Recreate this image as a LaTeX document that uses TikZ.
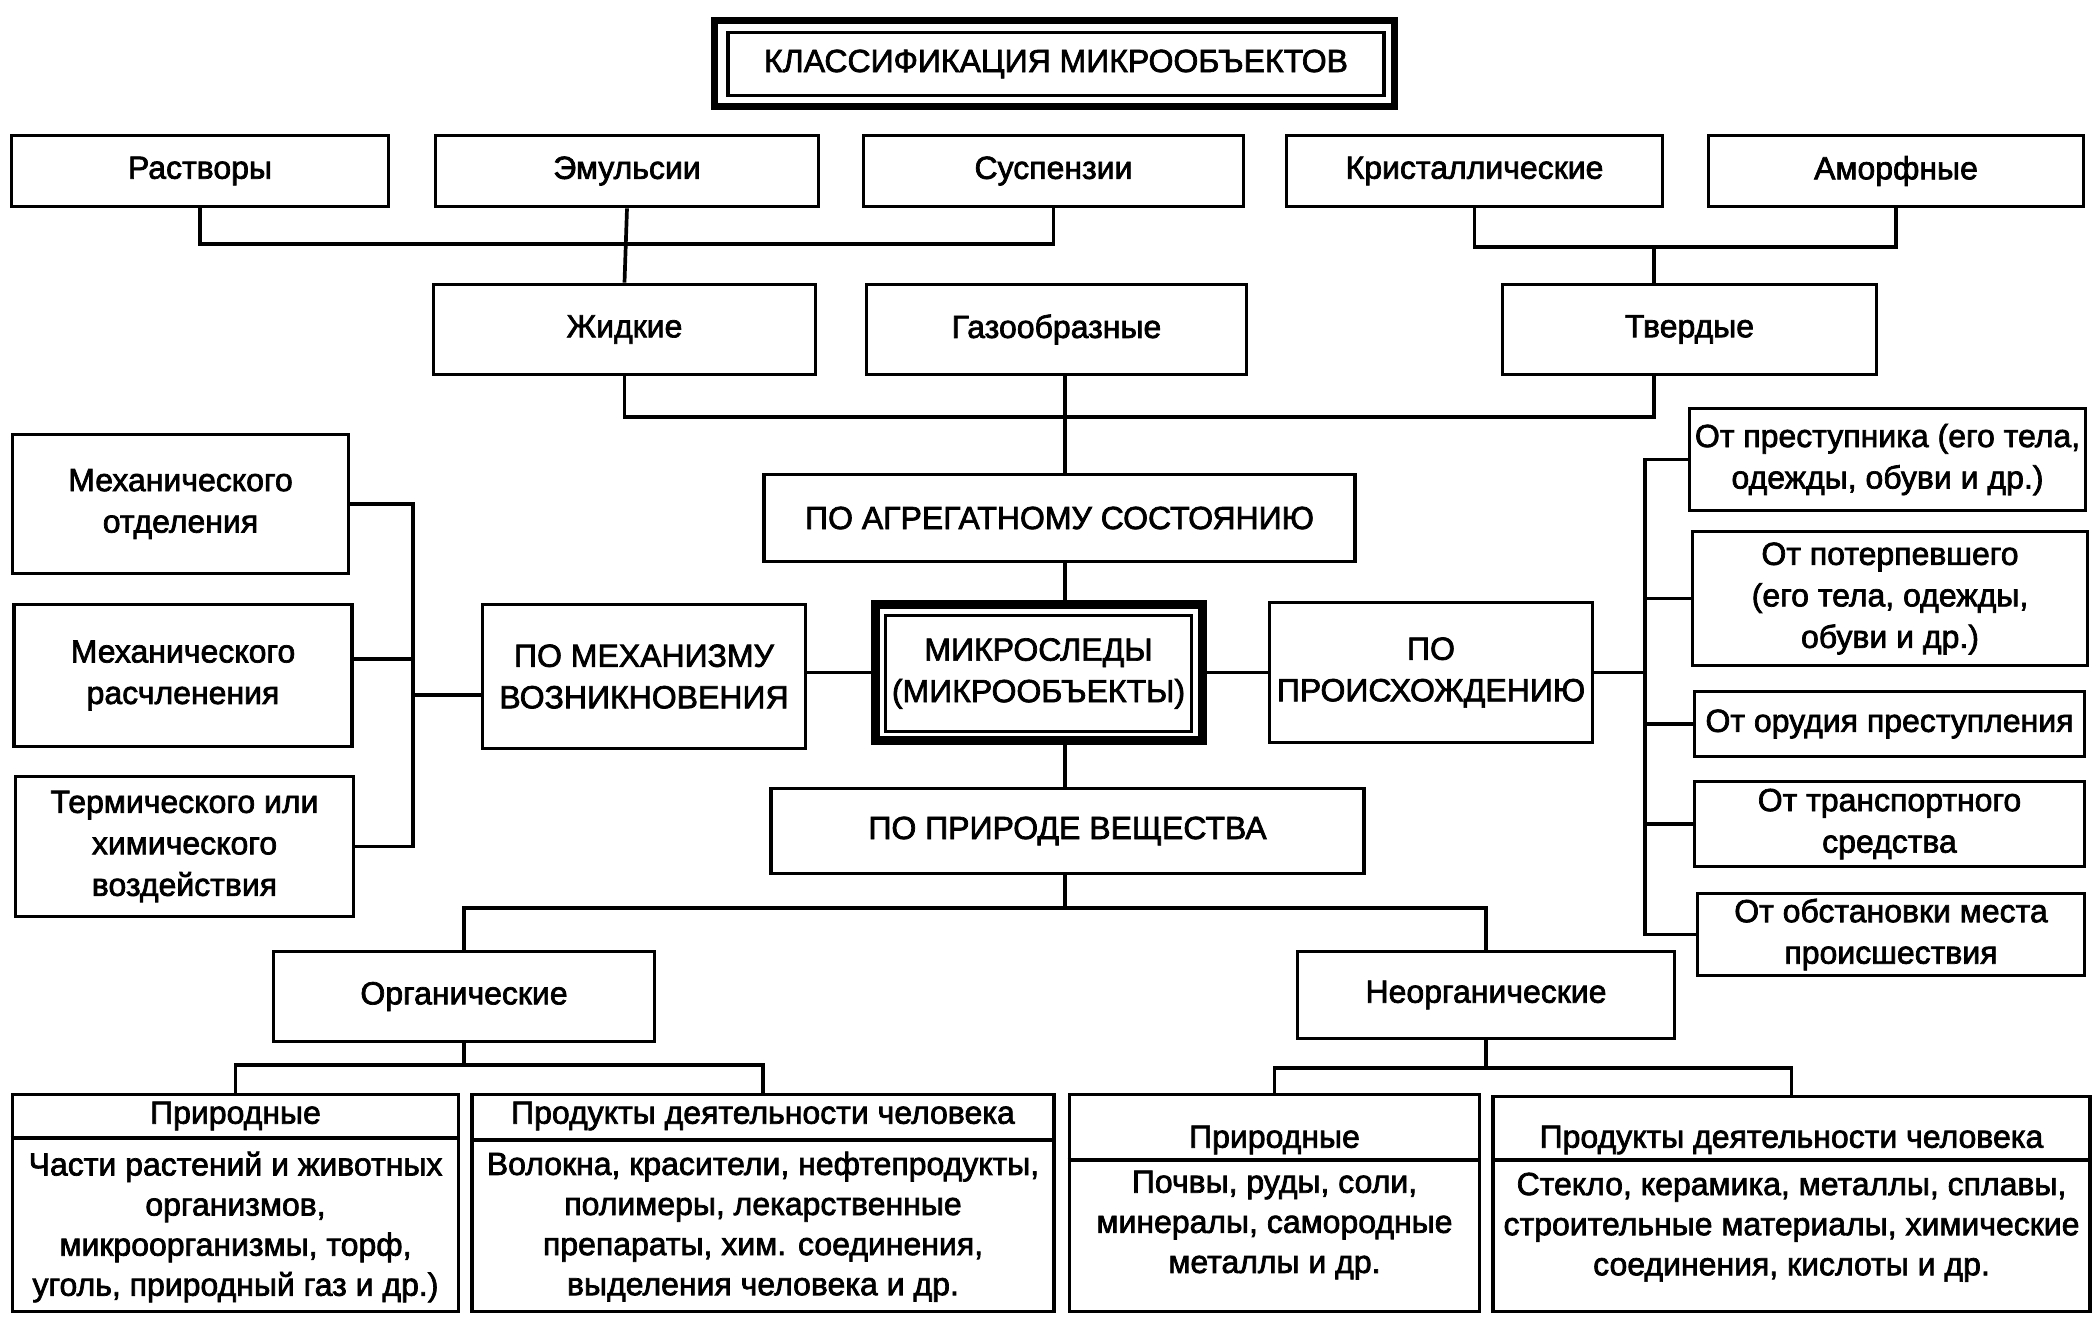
\documentclass[tikz,border=0pt]{standalone}
\usepackage{fontspec}
\setmainfont{Liberation Sans}[FakeBold=2.2]
\usetikzlibrary{calc}
\begin{document}
\begin{tikzpicture}[x=0.01cm,y=-0.01cm,
  every node/.style={font=\fontsize{9.1pt}{11.8pt}\selectfont, align=center, inner sep=0pt},
  box/.style={draw, line width=1.05pt},
  conn/.style={line width=1.05pt},
  bodytext/.style={anchor=north, font=\fontsize{9.1pt}{11.4pt}\selectfont}
  ]
\useasboundingbox (0,0) rectangle (2096,1326);
% title
\node[draw, line width=0.07cm, minimum width=6.80cm, minimum height=0.86cm] (titleo) at (1054.5,63.5) {};
\node[box, minimum width=6.55cm, minimum height=0.63cm] (title) at (1056,64) {КЛАССИФИКАЦИЯ МИКРООБЪЕКТОВ};
% top row
\node[box, minimum width=3.77cm, minimum height=0.71cm] (rastv) at (200,171) {Растворы};
\node[box, minimum width=3.83cm, minimum height=0.71cm] (emul) at (627,171) {Эмульсии};
\node[box, minimum width=3.80cm, minimum height=0.71cm] (susp) at (1053.5,171) {Суспензии};
\node[box, minimum width=3.76cm, minimum height=0.71cm] (krist) at (1474.5,171) {Кристаллические};
\node[box, minimum width=3.75cm, minimum height=0.71cm] (amorf) at (1896,171) {Аморфные};
% second row
\node[box, minimum width=3.82cm, minimum height=0.90cm] (zhid) at (624.5,329.5) {Жидкие};
\node[box, minimum width=3.80cm, minimum height=0.90cm] (gaz) at (1056.5,329.5) {Газообразные};
\node[box, minimum width=3.74cm, minimum height=0.90cm] (tverd) at (1689.5,329.5) {Твердые};
\node[box, minimum width=5.90cm, minimum height=0.87cm] (agreg) at (1059.5,518) {ПО АГРЕГАТНОМУ СОСТОЯНИЮ};
% left column
\node[box, minimum width=3.36cm, minimum height=1.39cm] (mo) at (180.5,504) {Механического\\отделения};
\node[box, minimum width=3.38cm, minimum height=1.42cm] (mr) at (183,675.5) {Механического\\расчленения};
\node[box, minimum width=3.38cm, minimum height=1.40cm] (term) at (184.5,846.5) {Термического или\\химического\\воздействия};
\node[box, minimum width=3.23cm, minimum height=1.44cm] (mech) at (644,676.5) {ПО МЕХАНИЗМУ\\ВОЗНИКНОВЕНИЯ};
% centre
\node[draw, line width=0.09cm, minimum width=3.27cm, minimum height=1.36cm] (microo) at (1039,672.5) {};
\node[box, minimum width=3.06cm, minimum height=1.16cm] (micro) at (1038.5,673.5) {МИКРОСЛЕДЫ\\(МИКРООБЪЕКТЫ)};
\node[box, minimum width=3.23cm, minimum height=1.40cm] (proish) at (1431,672.5) {ПО\\ПРОИСХОЖДЕНИЮ};
% right column
\node[box, minimum width=3.96cm, minimum height=1.02cm] (op1) at (1887.5,459.5) {От преступника (его тела,\\одежды, обуви и др.)};
\node[box, minimum width=3.95cm, minimum height=1.34cm] (op2) at (1890,598.5) {От потерпевшего\\(его тела, одежды,\\обуви и др.)};
\node[box, minimum width=3.90cm, minimum height=0.65cm] (op3) at (1889.5,724) {От орудия преступления};
\node[box, minimum width=3.90cm, minimum height=0.85cm] (op4) at (1889.5,824) {От транспортного\\средства};
\node[box, minimum width=3.87cm, minimum height=0.82cm] (op5) at (1891,934.5) {От обстановки места\\происшествия};
% nature
\node[box, minimum width=5.92cm, minimum height=0.85cm] (prir) at (1067.5,831) {ПО ПРИРОДЕ ВЕЩЕСТВА};
\node[box, minimum width=3.81cm, minimum height=0.90cm] (org) at (464,996.5) {Органические};
\node[box, minimum width=3.77cm, minimum height=0.87cm] (neorg) at (1486,995) {Неорганические};
% bottom boxes
\node[box, minimum width=4.46cm, minimum height=2.17cm] (b1) at (235.5,1203) {};
\node[box, minimum width=5.81cm, minimum height=2.17cm] (b2) at (763,1203) {};
\node[box, minimum width=4.10cm, minimum height=2.17cm] (b3) at (1274.5,1203) {};
\node[box, minimum width=5.96cm, minimum height=2.15cm] (b4) at (1791.5,1204) {};
\coordinate (d1) at (0,1138);
\coordinate (d2) at (0,1140);
\coordinate (d3) at (0,1160);
\draw[conn] (b1.west |- d1) -- (b1.east |- d1);
\draw[conn] (b2.west |- d2) -- (b2.east |- d2);
\draw[conn] (b3.west |- d3) -- (b3.east |- d3);
\draw[conn] (b4.west |- d3) -- (b4.east |- d3);
\node (b1h) at (235.5,1116) {Природные};
\node (b2h) at (763,1116) {Продукты деятельности человека};
\node (b3h) at (1274.5,1140) {Природные};
\node (b4h) at (1791.5,1140) {Продукты деятельности человека};
\node[bodytext] (b1b) at (235.5,1151) {Части растений и животных\\организмов,\\микроорганизмы, торф,\\уголь, природный газ и др.)};
\node[bodytext] (b2b) at (763,1151) {Волокна, красители, нефтепродукты,\\полимеры, лекарственные\\препараты, хим. соединения,\\выделения человека и др.};
\node[bodytext] (b3b) at (1274.5,1170) {Почвы, руды, соли,\\минералы, самородные\\металлы и др.};
\node[bodytext] (b4b) at (1791.5,1172) {Стекло, керамика, металлы, сплавы,\\строительные материалы, химические\\соединения, кислоты и др.};
% helper coordinates
\coordinate (h1) at (0,244);
\coordinate (h2) at (0,247);
\coordinate (tvx) at (1654,0);
\coordinate (h3) at (0,417);
\coordinate (sp) at (1065,0);
\coordinate (lb) at (413,0);
\coordinate (rb) at (1645,0);
\coordinate (h4) at (0,908);
\coordinate (h5) at (0,1065);
\coordinate (h6) at (0,1068);
\coordinate (mrc) at ([yshift=0.165cm]mr.east);
\coordinate (mechc) at ([yshift=-0.185cm]mech.west);
% connectors top
\draw[conn] (rastv.south) -- (rastv.south |- h1) -- (susp.south |- h1) -- (susp.south);
\draw[conn] (emul.south) -- (zhid.north);
\draw[conn] (krist.south) -- (krist.south |- h2) -- (amorf.south |- h2) -- (amorf.south);
\draw[conn] (tvx |- h2) -- (tvx |- tverd.north);
\draw[conn] (zhid.south) -- (zhid.south |- h3) -- (tvx |- h3) -- (tvx |- tverd.south);
\draw[conn] (sp |- gaz.south) -- (sp |- agreg.north);
\draw[conn] (sp |- agreg.south) -- (sp |- microo.north);
\draw[conn] (sp |- microo.south) -- (sp |- prir.north);
\draw[conn] (mech.east |- microo.west) -- (microo.west);
\draw[conn] (microo.east) -- (microo.east -| proish.west);
% left bus
\draw[conn] (mo.east) -- (lb |- mo.east) -- (lb |- term.east) -- (term.east);
\draw[conn] (mrc) -- (lb |- mrc);
\draw[conn] (mechc) -- (lb |- mechc);
% right bus
\draw[conn] (proish.east) -- (rb |- proish.east);
\draw[conn] (op1.west) -- (rb |- op1.west) -- (rb |- op5.west) -- (op5.west);
\foreach \n in {op2,op3,op4} \draw[conn] (rb |- \n.west) -- (\n.west);
% bottom
\draw[conn] (sp |- prir.south) -- (sp |- h4);
\draw[conn] (org.north) -- (org.north |- h4) -- (neorg.north |- h4) -- (neorg.north);
\draw[conn] (org.south) -- (org.south |- h5);
\draw[conn] (b1.north) -- (b1.north |- h5) -- (b2.north |- h5) -- (b2.north);
\draw[conn] (neorg.south) -- (neorg.south |- h6);
\draw[conn] (b3.north) -- (b3.north |- h6) -- (b4.north |- h6) -- (b4.north);
\end{tikzpicture}
\end{document}
